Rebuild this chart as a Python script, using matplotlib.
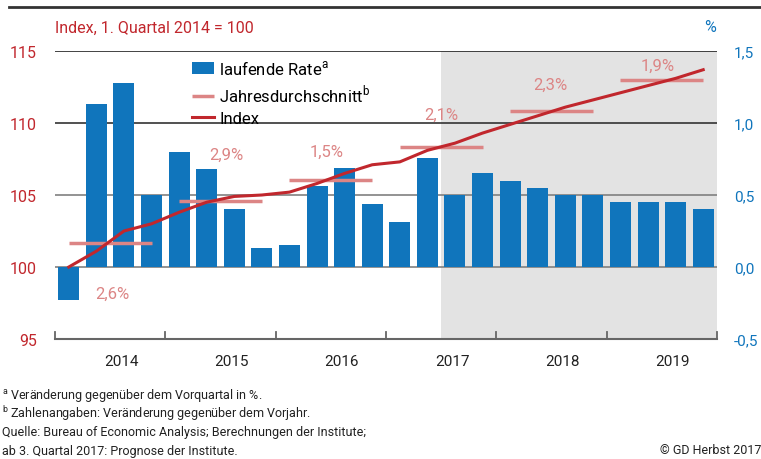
import matplotlib
matplotlib.use('Agg')
import matplotlib.pyplot as plt

plt.rcParams['font.family'] = ['Roboto', 'DejaVu Sans']

# Quartale 2014Q1 .. 2019Q4
years = ['2014', '2015', '2016', '2017', '2018', '2019']
rate = [-0.23, 1.13, 1.28, 0.50,
        0.80, 0.68, 0.40, 0.13,
        0.15, 0.56, 0.69, 0.44,
        0.31, 0.76, 0.50, 0.65,
        0.60, 0.55, 0.50, 0.50,
        0.45, 0.45, 0.45, 0.40]
index = [100.0, 101.1, 102.5, 103.0,
         103.8, 104.5, 104.9, 105.0,
         105.2, 105.8, 106.5, 107.1,
         107.3, 108.1, 108.6, 109.3,
         109.9, 110.5, 111.1, 111.6,
         112.1, 112.6, 113.1, 113.7]
year_avg = [101.65, 104.56, 106.07, 108.35, 110.86, 112.96]
avg_labels = ['2,6%', '2,9%', '1,5%', '2,1%', '2,3%', '1,9%']
label_x = [1.57, 5.73, 9.36, 13.49, 17.47, 21.35]
label_y = [98.2, 107.8, 108.0, 110.6, 112.7, 114.0]
forecast_start = 14  # ab 3. Quartal 2017

blue = '#1075bc'
red = '#c1272d'
pink = '#dc8585'

fig = plt.figure(figsize=(7.61, 4.60), dpi=100)
ax = fig.add_axes([55 / 761, 120 / 460, 662 / 761, 288 / 460])
ax2 = ax.twinx()

q = list(range(len(rate)))
ax.set_xlim(-0.5, len(rate) - 0.5)
ax.set_ylim(-0.5, 1.5)
ax2.set_ylim(95, 115)

# Prognosebereich
ax.axvspan(forecast_start - 0.5, len(rate) - 0.5, color='#e3e3e3', lw=0, zorder=0)

# Gitterlinien
for v, c in [(1.5, '#222222'), (1.0, '#333333'), (0.5, '#808080'), (0.0, '#808080')]:
    ax.axhline(v, color=c, lw=1.2, zorder=1)

ax.bar(q, rate, width=0.76, color=blue, zorder=2, label='laufende Rate$^{\\mathregular{a}}$')

# Jahresdurchschnitt
for i, v in enumerate(year_avg):
    ax2.plot([4 * i, 4 * i + 3], [v, v], color=pink, lw=2.5, solid_capstyle='butt', zorder=3,
             label='Jahresdurchschnitt$^{\\mathregular{b}}$' if i == 0 else None)
    ax2.text(label_x[i], label_y[i], avg_labels[i], color=pink, fontsize=12, ha='center', va='center')

ax2.plot(q, index, color=red, lw=2.2, zorder=4, label='Index')

# Achsen
for a in (ax, ax2):
    for s in ['top', 'left', 'right', 'bottom']:
        a.spines[s].set_visible(False)
ax.axhline(-0.5, color='#666666', lw=1.5, zorder=5, clip_on=False)
ax.set_xticks([])
for i in range(len(years) + 1):
    ax.plot([4 * i - 0.5, 4 * i - 0.5], [-0.5, -0.45], color='#666666', lw=1.3, clip_on=False, zorder=5)
for i, y in enumerate(years):
    ax.text(4 * i + 1.9, -0.655, y, ha='center', va='center', fontsize=11, color='#222222')

ax.yaxis.tick_right()
ax.set_yticks([-0.5, 0.0, 0.5, 1.0, 1.5])
ax.set_yticklabels(['-0,5', '0,0', '0,5', '1,0', '1,5'])
ax.tick_params(axis='y', length=0, pad=12, labelsize=11, labelcolor=blue)

ax2.yaxis.tick_left()
ax2.set_yticks([95, 100, 105, 110, 115])
ax2.tick_params(axis='y', length=0, pad=13, labelsize=11.5, labelcolor=red)

# Legende
h1, l1 = ax.get_legend_handles_labels()
h2, l2 = ax2.get_legend_handles_labels()
ax2.legend(h1 + h2, l1 + l2, loc='upper left', bbox_to_anchor=(0.185, 1.025), frameon=False,
           fontsize=12, handlelength=1.3, handletextpad=0.3, labelspacing=0.35)

# Texte
fig.text(55 / 761, 1 - 28 / 460, 'Index, 1. Quartal 2014 = 100', color=red, fontsize=11.5, va='center')
fig.text(710 / 761, 1 - 28 / 460, '%', color=blue, fontsize=11.5, va='center', ha='center')
fig.add_artist(plt.Line2D([9 / 761, 1], [1 - 8 / 460, 1 - 8 / 460], color='#333333', lw=2))

notes = ['$^{\\mathregular{a}}$ Veränderung gegenüber dem Vorquartal in %.',
         '$^{\\mathregular{b}}$ Zahlenangaben: Veränderung gegenüber dem Vorjahr.',
         'Quelle: Bureau of Economic Analysis; Berechnungen der Institute;',
         'ab 3. Quartal 2017: Prognose der Institute.']
for k, n in enumerate(notes):
    fig.text(2 / 761, 1 - (395 + k * 18.7) / 460, n, fontsize=9, color='#222222', va='center')
fig.text(1.0, 1 - 451 / 460, '© GD Herbst 2017', fontsize=9, color='#222222', va='center', ha='right')

fig.savefig('out.png', dpi=100)
